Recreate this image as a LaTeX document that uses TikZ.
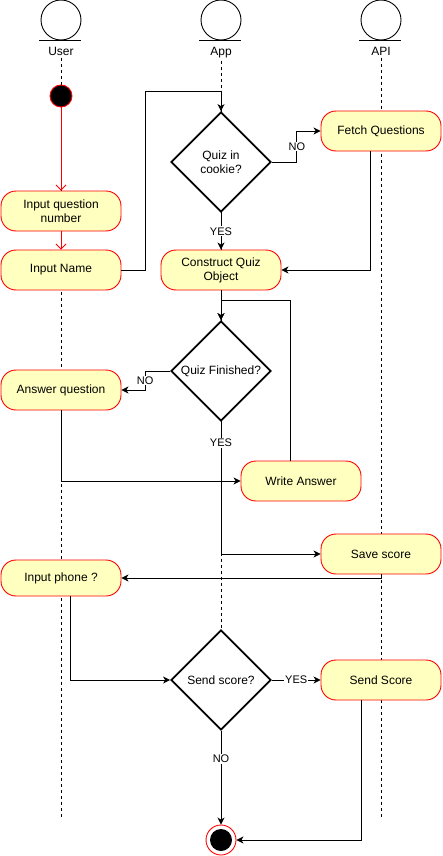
\documentclass[tikz,border=0pt]{standalone}
\usepackage{fontspec}
\setmainfont{Liberation Sans}
\usetikzlibrary{shapes.geometric,arrows.meta,positioning}
\definecolor{notefill}{HTML}{FFFFC0}

\begin{document}
\begin{tikzpicture}[x=1pt,y=-1pt,line width=0.9pt,font=\fontsize{12}{14}\selectfont,
    >={Stealth[length=7pt,width=7pt,inset=2pt]},
    actor/.style={circle,draw,fill=white,minimum size=40pt,inner sep=0pt},
    lifeline/.style={dash pattern=on 3pt off 3pt},
    state/.style={draw=red,fill=notefill,rounded corners=15pt,minimum width=120pt,
      minimum height=40pt,align=center,inner sep=2pt},
    decision/.style={diamond,draw,line width=1.8pt,fill=white,minimum width=100pt,
      minimum height=100pt,inner sep=0pt,align=center},
    startnode/.style={circle,draw=red,fill=black,minimum size=22pt,inner sep=0pt},
    endnode/.style={circle,draw=red,fill=white,minimum size=30pt,inner sep=0pt},
    link/.style={->},
    redlink/.style={-{Straight Barb[length=5pt,width=10pt]},red},
    lbl/.style={fill=white,inner sep=1pt,font=\fontsize{11}{13}\selectfont}]
  \useasboundingbox (0,0) rectangle (442,856);

  \foreach \nm/\x/\txt in {user/61/User,app/221/App,api/381/API}{
    \node[actor] (\nm) at (\x,20) {};
    \draw ([xshift=-22pt]\nm.south) -- ([xshift=20pt]\nm.south);
    \node[below=4.5pt of \nm.south,inner sep=2pt] (\nm lbl) {\txt};
    \coordinate (\nm end) at (\x,817);
    \draw[lifeline] (\nm lbl) -- (\nm end);
  }

  \node[startnode] (start) at (61,96) {};
  \node[state] (qnum) at (61,211) {Input question\\number};
  \node[state] (name) at (61,270) {Input Name};
  \node[decision] (cookie) at (221,162) {Quiz in\\cookie?};
  \node[state] (fetch) at (381,131) {Fetch Questions};
  \node[state] (construct) at (221,270) {Construct Quiz\\Object};
  \node[decision] (finished) at (221,371) {Quiz Finished?};
  \node[state] (answer) at (61,390) {Answer question};
  \node[state] (write) at (301,481) {Write Answer};
  \node[state] (save) at (381,554) {Save score};
  \node[state,minimum height=36pt] (phone) at (61,578) {Input phone ?};
  \node[decision] (send) at (221,680) {Send score?};
  \node[state] (sendscore) at (381,680) {Send Score};
  \node[endnode] (stop) at (221,840) {};
  \fill (stop.center) circle (11pt);
  \coordinate (top) at (221,91);
  \coordinate (join) at (221,300);

  \draw[redlink] (start) -- (qnum);
  \draw[redlink] (qnum) -- (name);
  \draw[link] (name.east) -- ++(24,0) |- (top) -- (cookie.north);
  \draw[link] (cookie.east) -- ++(25,0) |- (fetch.west) node[lbl,pos=0.25] {NO};
  \draw[link] ([xshift=-11pt]fetch.south) |- (construct.east);
  \draw[link] (cookie) -- (construct) node[lbl,midway] {YES};
  \draw[link] (construct) -- (finished);
  \draw[link] ([xshift=-11pt]write.north) |- (join) -- (finished.north);
  \draw[link] (finished.west) -- ++(-25,0) |- (answer.east) node[lbl,pos=0.25] {NO};
  \draw[link] (answer.south) |- (write.west);
  \draw[link] (finished.south) |- (save.west) node[lbl,pos=0.08] {YES};
  \draw[link] (save.south) |- (phone.east);
  \draw[link] ([xshift=9pt]phone.south) |- (send.west);
  \draw[link] (send.east) -- (sendscore.west) node[lbl,midway] {YES};
  \draw[link] (send.south) -- (stop.north) node[lbl,pos=0.3] {NO};
  \draw[link] ([xshift=-20pt]sendscore.south) |- (stop.east);
\end{tikzpicture}
\end{document}
